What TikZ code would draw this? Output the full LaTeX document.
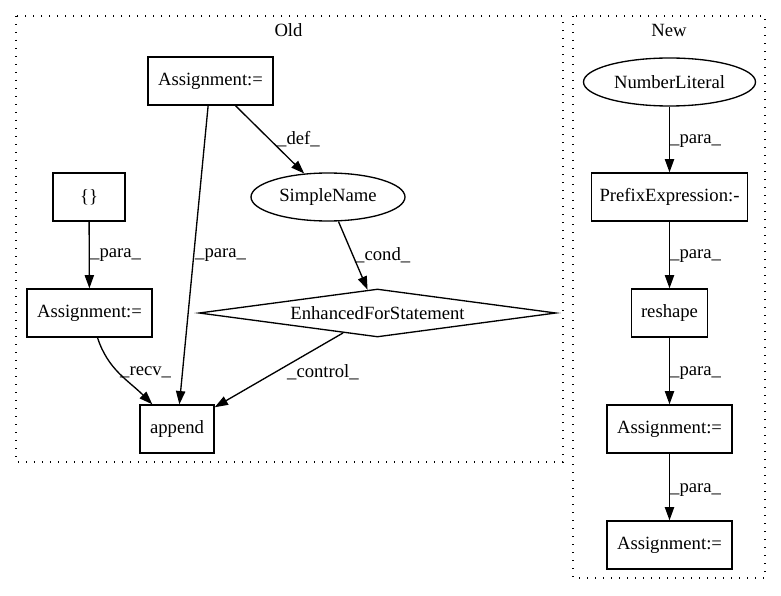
\documentclass[tikz,border=0pt]{standalone}
\usepackage{fontspec}
\setmainfont{Liberation Serif}
\usetikzlibrary{arrows.meta,shapes.geometric}
\begin{document}
\begin{tikzpicture}[x=1pt,y=1pt,
  font=\fontsize{18.67}{22}\selectfont,
  box/.style={draw,line width=1.33pt,rectangle,inner sep=0pt,minimum height=48pt},
  ell/.style={draw,line width=1.33pt,ellipse,inner sep=0pt,minimum height=48pt},
  dia/.style={draw,line width=1.33pt,diamond,aspect=7.4,inner sep=0pt,minimum height=48pt,minimum width=357pt},
  clus/.style={line width=1.33pt,dash pattern=on 1.33pt off 6.67pt},
  edge/.style={line width=1.33pt,-{Triangle[length=13.3pt,width=9.3pt]}},
  lbl/.style={inner sep=0pt,anchor=west}
]
\useasboundingbox (0,0) rectangle (781,-596);
% clusters
\draw[clus] (16,-16) rectangle (563,-462);
\draw[clus] (573,-16) rectangle (765,-578);
\node (oldt) at (288.5,-30) {Old};
\node (newt) at (669,-30) {New};
% Old nodes
\node[box,minimum width=125pt] (a1) at (210.5,-81) {Assignment:=};
\node[box,minimum width=72pt] (br) at (89,-197) {\{\}};
\node[ell,minimum width=154pt] (sn) at (328,-197) {SimpleName};
\node[box,minimum width=125pt] (a2) at (89.5,-313) {Assignment:=};
\node[dia] (efs) at (377.5,-313) {EnhancedForStatement};
\node[box,minimum width=74pt] (ap) at (177,-429) {append};
% New nodes
\node[ell,minimum width=172pt] (nl) at (669.5,-82) {NumberLiteral};
\node[box,minimum width=156pt] (pe) at (669.5,-197) {PrefixExpression:-};
\node[box,minimum width=76pt] (rs) at (669.5,-313) {reshape};
\node[box,minimum width=125pt] (a3) at (669.5,-429) {Assignment:=};
\node[box,minimum width=125pt] (a4) at (669.5,-545) {Assignment:=};
% edges Old
\draw[edge] (a1) -- (sn);
\draw[edge] (a1) -- (ap);
\draw[edge] (br) -- (a2);
\draw[edge] (sn) -- (efs);
\draw[edge] (a2) to[out=-72,in=135] (ap);
\draw[edge] (efs) -- (ap);
% edges New
\draw[edge] (nl) -- (pe);
\draw[edge] (pe) -- (rs);
\draw[edge] (rs) -- (a3);
\draw[edge] (a3) -- (a4);
% labels
\node[lbl] (l1) at (277,-139) {\_def\_};
\node[lbl] (l2) at (195,-255) {\_para\_};
\node[lbl] (l3) at (90,-255) {\_para\_};
\node[lbl] (l4) at (355,-255) {\_cond\_};
\node[lbl] (l5) at (120,-372) {\_recv\_};
\node[lbl] (l6) at (287,-372) {\_control\_};
\node[lbl] (l7) at (670,-141) {\_para\_};
\node[lbl] (l8) at (670,-256) {\_para\_};
\node[lbl] (l9) at (670,-373) {\_para\_};
\node[lbl] (l10) at (670,-490) {\_para\_};
\end{tikzpicture}
\end{document}
